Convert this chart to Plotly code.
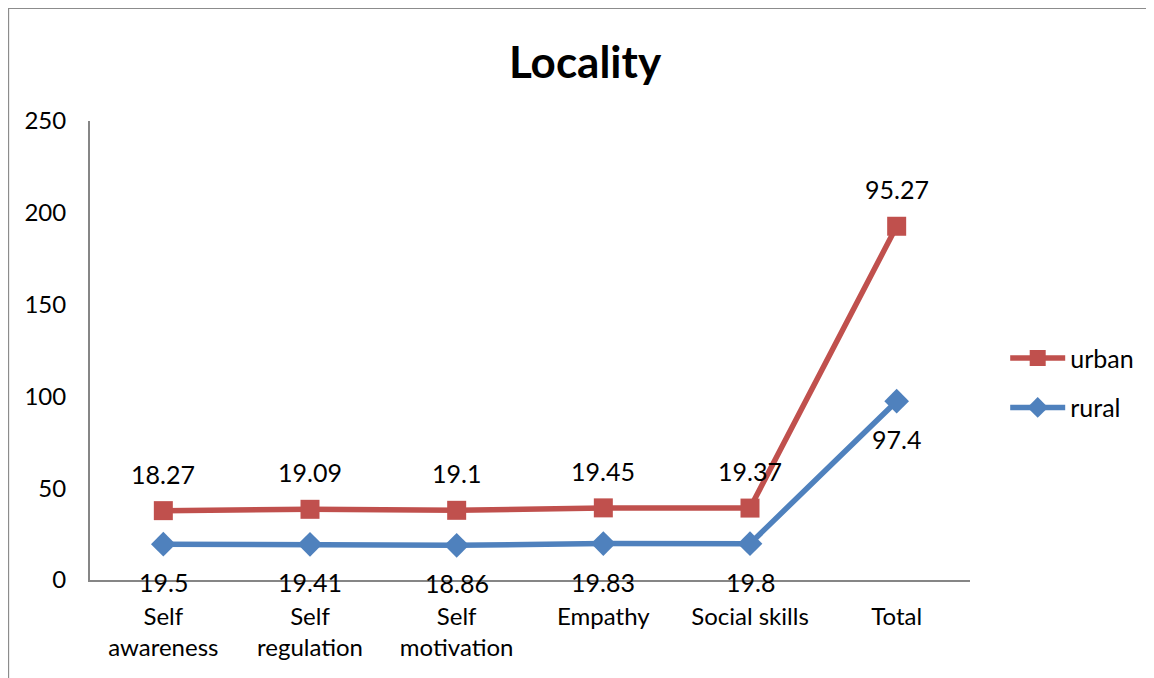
import numpy as np
import plotly.graph_objects as go

categories = ["Self<br>awareness", "Self<br>regulation", "Self<br>motivation", "Empathy", "Social skills", "Total"]
rural = [19.5, 19.41, 18.86, 19.83, 19.8, 97.4]
urban = [18.27, 19.09, 19.1, 19.45, 19.37, 95.27]
y_ticks = [0, 50, 100, 150, 200, 250]

# Excel "stacked line": urban is drawn on top of rural
urban_stacked = (np.array(rural) + np.array(urban)).tolist()

RED = "#C0504D"
BLUE = "#4F81BD"
FONT = "Lato, Carlito, Calibri, sans-serif"

fig = go.Figure()
fig.add_trace(go.Scatter(
    x=categories, y=urban_stacked, name="urban", mode="lines+markers",
    line=dict(color=RED, width=5.5), marker=dict(symbol="square", size=19, color=RED),
    legendgroup="u",
))
fig.add_trace(go.Scatter(
    x=categories, y=rural, name="rural", mode="lines+markers",
    line=dict(color=BLUE, width=5.5), marker=dict(symbol="diamond", size=19, color=BLUE),
    legendgroup="r",
))

for c, ys, v in zip(categories, urban_stacked, urban):
    fig.add_annotation(x=c, y=ys, text=f"{v:g}", showarrow=False, yshift=37,
                       font=dict(size=25, color="black", family=FONT))
for c, ys, v in zip(categories, rural, rural):
    fig.add_annotation(x=c, y=ys, text=f"{v:g}", showarrow=False, yshift=-38,
                       font=dict(size=25, color="black", family=FONT))

# chart border (top and left visible)
fig.add_shape(type="line", xref="paper", yref="paper", x0=-0.093, x1=1.3, y0=1.246, y1=1.246,
              line=dict(color="#8C8C8C", width=2))
fig.add_shape(type="line", xref="paper", yref="paper", x0=-0.093, x1=-0.093, y0=1.246, y1=-0.3,
              line=dict(color="#8C8C8C", width=2))

fig.update_layout(
    width=1154, height=678,
    margin=dict(l=82, r=192, t=113, b=106),
    paper_bgcolor="white", plot_bgcolor="white",
    font=dict(family=FONT, size=22, color="black"),
    title=dict(text="<b>Locality</b>", x=0.5, xanchor="center", y=0.92, yanchor="middle",
               font=dict(size=44, family=FONT, color="black")),
    legend=dict(x=1.04, y=0.43, xanchor="left", yanchor="middle", traceorder="grouped",
                tracegroupgap=14, itemwidth=55, font=dict(size=25, family=FONT),
                bgcolor="rgba(0,0,0,0)"),
    showlegend=True,
)
fig.update_xaxes(
    type="category", range=[-0.5, 5.5], showline=True, linecolor="#868686", linewidth=2,
    showgrid=False, ticks="", ticklabelstandoff=14, tickfont=dict(size=24, family=FONT),
)
fig.update_yaxes(
    range=[0, 250], tickvals=y_ticks, showline=True, linecolor="#868686", linewidth=2,
    showgrid=False, zeroline=False, ticks="", ticklabelstandoff=17, tickfont=dict(size=24, family=FONT),
)

fig.write_html("out.html")
